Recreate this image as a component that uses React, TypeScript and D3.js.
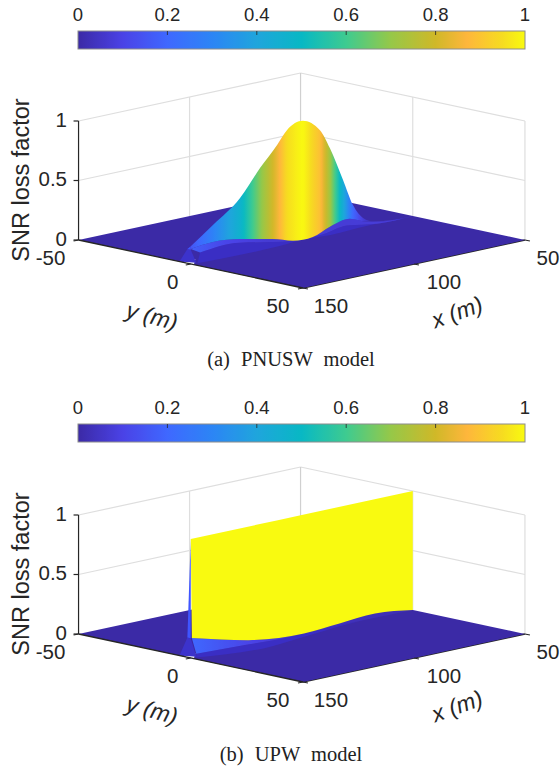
import React from "react";
import * as d3 from "d3";

const W = 560, H = 769;
const colorStops = [0, 0.1, 0.2, 0.3, 0.4, 0.5, 0.6, 0.7, 0.8, 0.87, 0.95, 1];
const colorValues = ["#3b2aa6", "#4a42e6", "#3f68ff", "#2c85f5", "#1fa5dc", "#08b8c4", "#3ecb90", "#96c848", "#d0b828", "#feb63c", "#f6dc20", "#f9fa10"];
const barTicks = [0, 0.2, 0.4, 0.6, 0.8, 1];
const barLabels = ["0", "0.2", "0.4", "0.6", "0.8", "1"];
const zTicks = [0, 0.5, 1];
const zLabels = ["0", "0.5", "1"];
const xTicks = [150, 100, 50];
const yTicks = [-50, 0, 50];

// Panel (a) PNUSW
const aX = [150, 140, 127.8, 118.8, 111.1, 106.6, 99.5, 91.8, 87.3, 81.4, 76.9, 72.4, 67, 50];
const aZ = [0.15, 0.287, 0.465, 0.68, 0.844, 0.951, 1, 0.89, 0.72, 0.43, 0.2, 0.074, 0.02, 0];
const aFootX = [150, 140, 127.8, 113, 104, 95, 87.3, 78.3, 70.6, 58, 50];
const aFootZ = [0.126, 0.145, 0.12, 0.06, 0.01, 0.005, 0.06, 0.09, 0.035, 0, 0];
const aBandX = [145.8, 127.8, 113, 104, 90.4, 79.6, 66, 50];
const aBandZ = [0.08, 0.09, 0.035, 0.01, 0.01, 0.04, 0, 0];
const aLowX = [147, 110, 98, 87, 70, 50];
const aLowZ = [-0.005, -0.01, 0, -0.01, 0, 0];
const aToneX = [150, 135, 115, 50];
const aTone = [0.18, 0.11, 0.07, 0.08];
const aCaption = "(a) PNUSW model";

// Panel (b) UPW
const bX = [150, 100, 50];
const bZ = [1, 1, 1];
const bFootX = [149.5, 124, 99, 83, 67, 50];
const bFootZ = [0.166, 0.045, 0, 0.02, 0.04, 0];
const bBandX = [147.5, 125, 105, 80, 50];
const bBandZ = [0.025, 0.01, -0.005, 0.005, 0];
const bLowX = [147.5, 115, 100, 80, 50];
const bLowZ = [-0.005, -0.05, -0.03, 0, 0];
const bToneX = [150, 125, 100, 50];
const bTone = [0.2, 0.11, 0.04, 0.02];
const bCaption = "(b) UPW model";

const sliverY = [-1.5, 0, 0];
const sliverDarkY = [-5, -1.5, 0, 0];
const sliverDarkX = [150, 150, 150, 147.5];
const notchX = [147, 144, 150, 150];
const notchY = [-6.6, -3.9, 1.4, -2.1];

const cmap = d3.scaleLinear<string>().domain(colorStops).range(colorValues).interpolate(d3.interpolateRgb);
const uScale = d3.scaleLinear().domain([50, 150]).range([-1, 1]);
const vScale = d3.scaleLinear().domain([-50, 50]).range([-1, 1]);
const hScale = d3.scaleLinear().domain([0, 1]).range([0, -119]);

function makeProject(baseY: number) {
  return (x: number, y: number, z: number): [number, number] => {
    const u = uScale(x), v = vScale(y);
    return [301.75 - 111 * u + 112.2 * v, baseY + 24 * u + 24 * v + hScale(z)];
  };
}
const FONT = "'Liberation Sans', Arial, sans-serif";
const INK = "#262626";
const GRID = "#dedede";

type PanelProps = {
  id: string; baseY: number; barY: number; caption: string; captionY: number;
  topX: number[]; topZ: number[]; footX: number[]; footZ: number[];
  bandX: number[]; bandZ: number[]; lowX: number[]; lowZ: number[]; toneX: number[]; tone: number[];
  sliverZ: number;
};

function Panel(p: PanelProps) {
  const P = makeProject(p.baseY);
  const sx = (x: number) => P(x, 0, 0)[0];
  const curve = d3.line<[number, number]>().curve(d3.curveMonotoneX);
  const seg = (xs: number[], zs: number[]) => xs.map((x, i) => P(x, 0, zs[i]));
  const area = (xa: number[], za: number[], xb: number[], zb: number[]) => {
    const a = curve(seg(xa, za))!;
    const b = curve(seg(xb, zb).reverse())!;
    return a + "L" + b.slice(1) + "Z";
  };
  const poly = (pts: [number, number][]) => d3.line()(pts)! + "Z";
  const x0 = sx(150), x1 = sx(50);
  const topFn = d3.scaleLinear().domain(p.topX).range(p.topZ);
  const toneFn = d3.scaleLinear().domain(p.toneX).range(p.tone);
  const offsets = d3.range(0, 1.0001, 0.01);
  const xAt = d3.scaleLinear().domain([0, 1]).range([150, 50]);
  const barX = d3.scaleLinear().domain([0, 1]).range([78, 525]);
  const line = (a: [number, number], b: [number, number], stroke: string, w: number, key: string) => (
    <line key={key} x1={a[0]} y1={a[1]} x2={b[0]} y2={b[1]} stroke={stroke} strokeWidth={w} />
  );
  const gradProps = { gradientUnits: "userSpaceOnUse" as const, x1: x0, x2: x1, y1: 0, y2: 0 };
  const label = (t: string, x: number, y: number, anchor = "middle") => (
    <text key={t + x} x={x} y={y} textAnchor={anchor} dominantBaseline="central" fontSize={20.5} fill={INK} fontFamily={FONT}>{t}</text>
  );
  return (
    <g>
      <defs>
        <linearGradient id={p.id + "bar"} x1="0" x2="1" y1="0" y2="0">
          {offsets.map((o) => <stop key={o} offset={o} stopColor={cmap(o)} />)}
        </linearGradient>
        <linearGradient id={p.id + "wall"} {...gradProps}>
          {offsets.map((o) => <stop key={o} offset={o} stopColor={cmap(topFn(xAt(o)))} />)}
        </linearGradient>
        <linearGradient id={p.id + "tone"} {...gradProps}>
          {offsets.map((o) => <stop key={o} offset={o} stopColor={cmap(toneFn(xAt(o)))} />)}
        </linearGradient>
      </defs>
      {/* colourbar */}
      <rect x={barX(0)} y={p.barY} width={barX(1) - barX(0)} height={18} fill={`url(#${p.id}bar)`} stroke="#8c8c8c" strokeWidth={1} />
      {barTicks.map((t, i) => (
        <g key={t}>
          {t > 0 && t < 1 && <line x1={barX(t)} x2={barX(t)} y1={p.barY} y2={p.barY + 4} stroke={INK} strokeWidth={0.8} />}
          <text x={barX(t)} y={p.barY - 17} textAnchor="middle" dominantBaseline="central" fontSize={18.5} fill={INK} fontFamily={FONT}>{barLabels[i]}</text>
        </g>
      ))}
      {/* back walls */}
      {zTicks.filter((z) => z > 0).map((z) => (
        <g key={z}>
          {line(P(150, -50, z), P(50, -50, z), GRID, 1.2, "l")}
          {line(P(50, -50, z), P(50, 50, z), GRID, 1.2, "r")}
        </g>
      ))}
      {line(P(100, -50, 0), P(100, -50, 1), GRID, 1.2, "g1")}
      {line(P(50, -50, 0), P(50, -50, 1), "#d0d0d0", 1.2, "g2")}
      {line(P(50, 0, 0), P(50, 0, 1), GRID, 1.2, "g3")}
      {line(P(50, 50, 0), P(50, 50, 1), GRID, 1.2, "g4")}
      {/* x axis lies under the surface edge */}
      {line(P(150, 50, 0), P(50, 50, 0), INK, 1.6, "xaxis")}
      {/* floor */}
      <path d={poly([P(150, -50, 0), P(150, 50, 0), P(50, 50, 0), P(50, -50, 0)])} fill={cmap(0)} />
      <path d={poly(notchX.map((x, i) => P(x, notchY[i], 0)))} fill="#ffffff" />
      {/* surface */}
      <path d={poly(sliverDarkY.map((y, i) => P(sliverDarkX[i], y, i === 0 || i === 3 ? 0 : p.sliverZ)))} fill="#3c33cc" />
      <path d={poly(sliverY.map((y, i) => P(150, y, i === 1 ? (p.topZ[0]) : p.sliverZ)))} fill="#3f55ff" />
      <path d={area(p.bandX, p.bandZ, p.lowX, p.lowZ)} fill="#3a2ec4" />
      <path d={area(p.footX, p.footZ, p.bandX, p.bandZ)} fill={`url(#${p.id}tone)`} />
      <path d={area(p.topX, p.topZ, p.footX, p.footZ)} fill={`url(#${p.id}wall)`} />
      {/* axes */}
      {line(P(150, -50, 0), P(150, 50, 0), INK, 1.3, "yaxis")}
      {line(P(150, -50, 0), P(150, -50, 1), INK, 1.2, "zaxis")}
      {zTicks.map((z) => {
        const a = P(150, -50, z);
        return <g key={z}>{line(a, [a[0] - 5, a[1]], INK, 1.2, "t")}</g>;
      })}
      {yTicks.map((y) => {
        const a = P(150, y, 0);
        return <g key={"o" + y}>{line(a, [a[0] - 5, a[1] + 1], INK, 1.2, "t")}</g>;
      })}
      {xTicks.map((x) => {
        const a = P(x, 50, 0);
        return <g key={x}>{line(a, [a[0] + 5, a[1] + 1], INK, 1.2, "t")}</g>;
      })}
      {/* tick labels */}
      {zTicks.map((z, i) => label(zLabels[i], 67, P(150, -50, z)[1] - 2, "end"))}
      {yTicks.map((y) => {
        const a = P(150, y, 0);
        return label(String(y), a[0] + (y === -50 ? -28 : y === 0 ? -18 : -25), a[1] + 17);
      })}
      {xTicks.map((x) => {
        const a = P(x, 50, 0);
        return label(String(x), a[0] + (x === 50 ? 23 : x === 100 ? 30 : 28), a[1] + 17);
      })}
      {/* axis titles */}
      <text transform={`translate(21,${p.baseY - 60}) rotate(-90)`} textAnchor="middle" dominantBaseline="central" fontSize={23.5} fill={INK} fontFamily={FONT}>SNR loss factor</text>
      <text transform={`translate(152,${p.baseY + 76}) rotate(15)`} textAnchor="middle" dominantBaseline="central" fontSize={23} fontStyle="italic" fill={INK} fontFamily={FONT}>y (m)</text>
      <text transform={`translate(457,${p.baseY + 72}) rotate(-20)`} textAnchor="middle" dominantBaseline="central" fontSize={23} fontStyle="italic" fill={INK} fontFamily={FONT}>x (m)</text>
      <text x={291} y={p.captionY} textAnchor="middle" dominantBaseline="central" fontSize={20.5} wordSpacing={6} fill="#222" fontFamily="'Liberation Serif', 'Times New Roman', serif">{p.caption}</text>
    </g>
  );
}

export default function App() {
  return (
    <svg width={W} height={H} viewBox={`0 0 ${W} ${H}`} style={{ position: "absolute", left: 0, top: 0, background: "#fff" }}>
      <Panel id="a" baseY={240} barY={31} caption={aCaption} captionY={359}
        topX={aX} topZ={aZ} footX={aFootX} footZ={aFootZ} bandX={aBandX} bandZ={aBandZ} lowX={aLowX} lowZ={aLowZ} toneX={aToneX} tone={aTone} sliverZ={0.12} />
      <Panel id="b" baseY={634} barY={424} caption={bCaption} captionY={754}
        topX={bX} topZ={bZ} footX={bFootX} footZ={bFootZ} bandX={bBandX} bandZ={bBandZ} lowX={bLowX} lowZ={bLowZ} toneX={bToneX} tone={bTone} sliverZ={0.166} />
    </svg>
  );
}
